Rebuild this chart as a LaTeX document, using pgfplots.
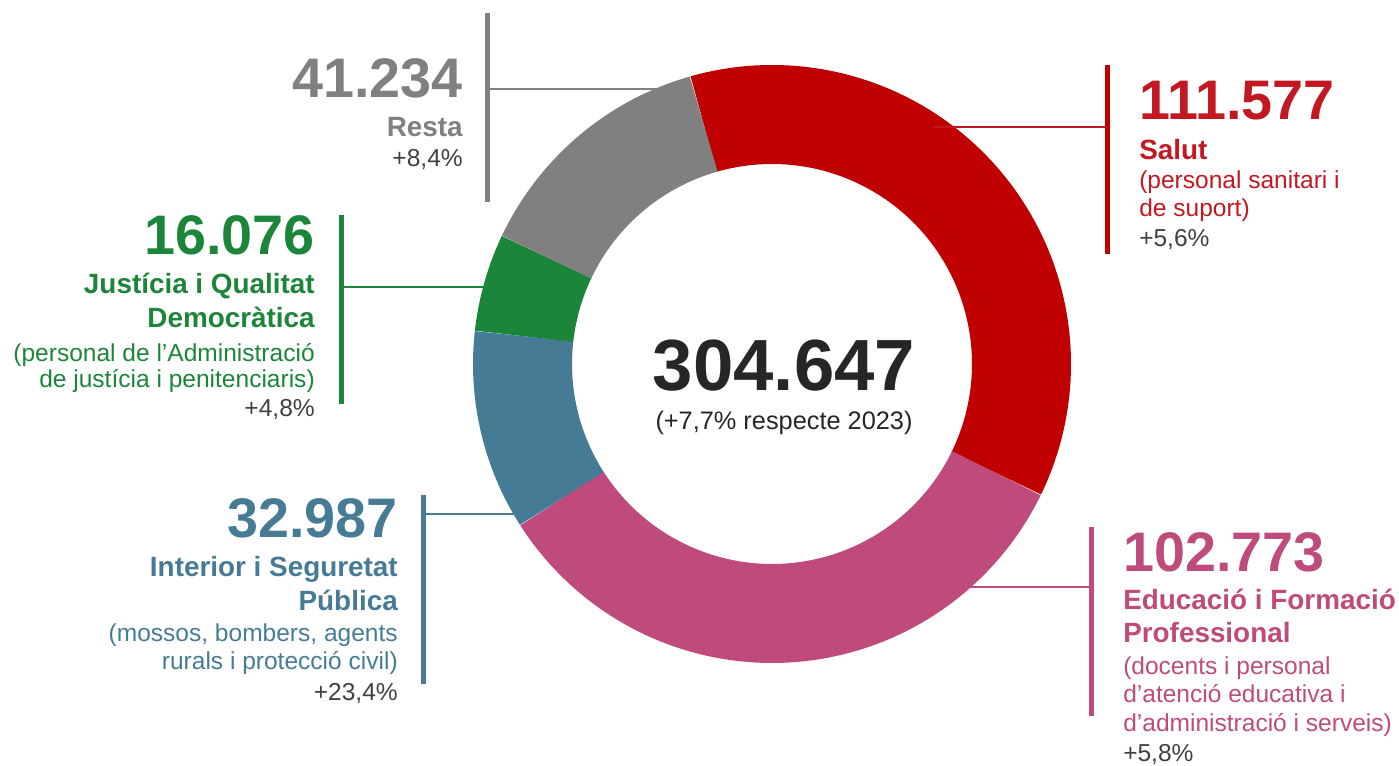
\documentclass[border=0pt]{standalone}
\usepackage{pgfplots}
\usepackage{pgfplotstable}
\pgfplotsset{compat=1.18}
\usepackage{fontspec}
\setmainfont{Liberation Sans}

\definecolor{salutR}{RGB}{192,0,0}
\definecolor{salutT}{RGB}{193,24,33}
\definecolor{educ}{RGB}{190,75,123}
\definecolor{inter}{RGB}{70,123,150}
\definecolor{just}{RGB}{27,133,57}
\definecolor{resta}{RGB}{128,128,128}
\definecolor{pct}{RGB}{64,64,64}
\definecolor{cent}{RGB}{38,38,38}

\newcommand\bignum{\fontsize{41.8}{45}\selectfont\bfseries}
\newcommand\blab{\fontsize{20.9}{24}\selectfont\bfseries}
\newcommand\rlab{\fontsize{18.4}{22}\selectfont}
\newcommand\cnum{\fontsize{54.4}{60}\selectfont\bfseries}
\newcommand\csub{\fontsize{19}{22}\selectfont}

% anchor, colour, font, x, y, text
\newcommand\tl[6]{\node[anchor=#1, inner sep=0pt, text=#2, font=#3] at (axis cs:#4,#5) {#6};}

\pgfplotstableread{
name value
Salut 111.577
Educacio 102.773
Interior 32.987
Justicia 16.076
Resta 41.234
}\donutdata

\pgfplotstablegetelem{0}{value}\of\donutdata \let\vA\pgfplotsretval
\pgfplotstablegetelem{1}{value}\of\donutdata \let\vB\pgfplotsretval
\pgfplotstablegetelem{2}{value}\of\donutdata \let\vC\pgfplotsretval
\pgfplotstablegetelem{3}{value}\of\donutdata \let\vD\pgfplotsretval
\pgfplotstablegetelem{4}{value}\of\donutdata \let\vE\pgfplotsretval
\pgfmathsetmacro\total{\vA+\vB+\vC+\vD+\vE}
\pgfmathsetmacro\aO{105.9}
\pgfmathsetmacro\aA{\aO-360*(\vA/\total)}
\pgfmathsetmacro\aB{\aA-360*(\vB/\total)}
\pgfmathsetmacro\aC{\aB-360*(\vC/\total)}
\pgfmathsetmacro\aD{\aC-360*(\vD/\total)}
\pgfmathsetmacro\aE{\aD-360*(\vE/\total)}

\begin{document}
\begin{tikzpicture}
\begin{axis}[x=0.75pt, y=0.75pt, xmin=0, xmax=1399, ymin=0, ymax=766,
  hide axis, clip=false, anchor=south west, at={(0,0)}, scale only axis]

% leader lines (behind the ring)
\addplot[resta, line width=1.5pt] coordinates {(487,677) (680,677)};
\addplot[just, line width=1.5pt] coordinates {(341,479) (500,479)};
\addplot[inter, line width=1.5pt] coordinates {(423,252) (530,252)};
\addplot[educ, line width=1.5pt] coordinates {(950,179) (1091,179)};

% donut ring
\addplot[salutR, line width=74.25pt, line cap=butt, domain=\aA:\aO, samples=120, variable=\t] ({772+249.5*cos(t)}, {402+249.5*sin(t)});
\addplot[educ, line width=74.25pt, line cap=butt, domain=\aB:\aA, samples=120, variable=\t] ({772+249.5*cos(t)}, {402+249.5*sin(t)});
\addplot[inter, line width=74.25pt, line cap=butt, domain=\aC:\aB, samples=50, variable=\t] ({772+249.5*cos(t)}, {402+249.5*sin(t)});
\addplot[just, line width=74.25pt, line cap=butt, domain=\aD:\aC, samples=30, variable=\t] ({772+249.5*cos(t)}, {402+249.5*sin(t)});
\addplot[resta, line width=74.25pt, line cap=butt, domain=\aE:\aD, samples=60, variable=\t] ({772+249.5*cos(t)}, {402+249.5*sin(t)});

% salut connector on top
\addplot[salutT, line width=1.5pt] coordinates {(933,639) (1107,639)};

% vertical bars
\addplot[resta, line width=3.75pt] coordinates {(487,753) (487,564)};
\addplot[salutR, line width=3.75pt] coordinates {(1107,701) (1107,512)};
\addplot[just, line width=3.75pt] coordinates {(341,551) (341,362)};
\addplot[inter, line width=3.75pt] coordinates {(423,271) (423,82)};
\addplot[educ, line width=3.75pt] coordinates {(1091,239) (1091,50)};

% centre
\tl{base}{cent}{\cnum}{784}{375}{304.647}
\tl{base}{cent}{\csub}{784}{336}{(+7,7\% respecte 2023)}

% Resta
\tl{base east}{resta}{\bignum}{463}{668.3}{41.234}
\tl{base east}{resta}{\blab}{463}{629.3}{Resta}
\tl{base east}{pct}{\rlab}{463}{599.3}{+8,4\%}

% Salut
\tl{base west}{salutT}{\bignum}{1139}{646}{111.577}
\tl{base west}{salutT}{\blab}{1139}{606}{Salut}
\tl{base west}{salutT}{\rlab}{1139}{577}{(personal sanitari i}
\tl{base west}{salutT}{\rlab}{1139}{549}{de suport)}
\tl{base west}{pct}{\rlab}{1139}{519}{+5,6\%}

% Justicia
\tl{base east}{just}{\bignum}{315}{511}{16.076}
\tl{base east}{just}{\blab}{315}{472}{Justícia i Qualitat}
\tl{base east}{just}{\blab}{315}{438}{Democràtica}
\tl{base east}{just}{\rlab}{315}{404}{(personal de l’Administració}
\tl{base east}{just}{\rlab}{315}{378}{de justícia i penitenciaris)}
\tl{base east}{pct}{\rlab}{315}{349}{+4,8\%}

% Interior
\tl{base east}{inter}{\bignum}{398}{228}{32.987}
\tl{base east}{inter}{\blab}{398}{189}{Interior i Seguretat}
\tl{base east}{inter}{\blab}{398}{155}{Pública}
\tl{base east}{inter}{\rlab}{398}{124}{(mossos, bombers, agents}
\tl{base east}{inter}{\rlab}{398}{96}{rurals i protecció civil)}
\tl{base east}{pct}{\rlab}{398}{65}{+23,4\%}

% Educacio
\tl{base west}{educ}{\bignum}{1123}{194}{102.773}
\tl{base west}{educ}{\blab}{1123}{156}{Educació i Formació}
\tl{base west}{educ}{\blab}{1123}{123}{Professional}
\tl{base west}{educ}{\rlab}{1123}{91}{(docents i personal}
\tl{base west}{educ}{\rlab}{1123}{63}{d’atenció educativa i}
\tl{base west}{educ}{\rlab}{1123}{34}{d’administració i serveis)}
\tl{base west}{pct}{\rlab}{1123}{4}{+5,8\%}
\end{axis}
\pgfresetboundingbox
\path (0,0) rectangle (1049.25pt,574.5pt);
\end{tikzpicture}
\end{document}
